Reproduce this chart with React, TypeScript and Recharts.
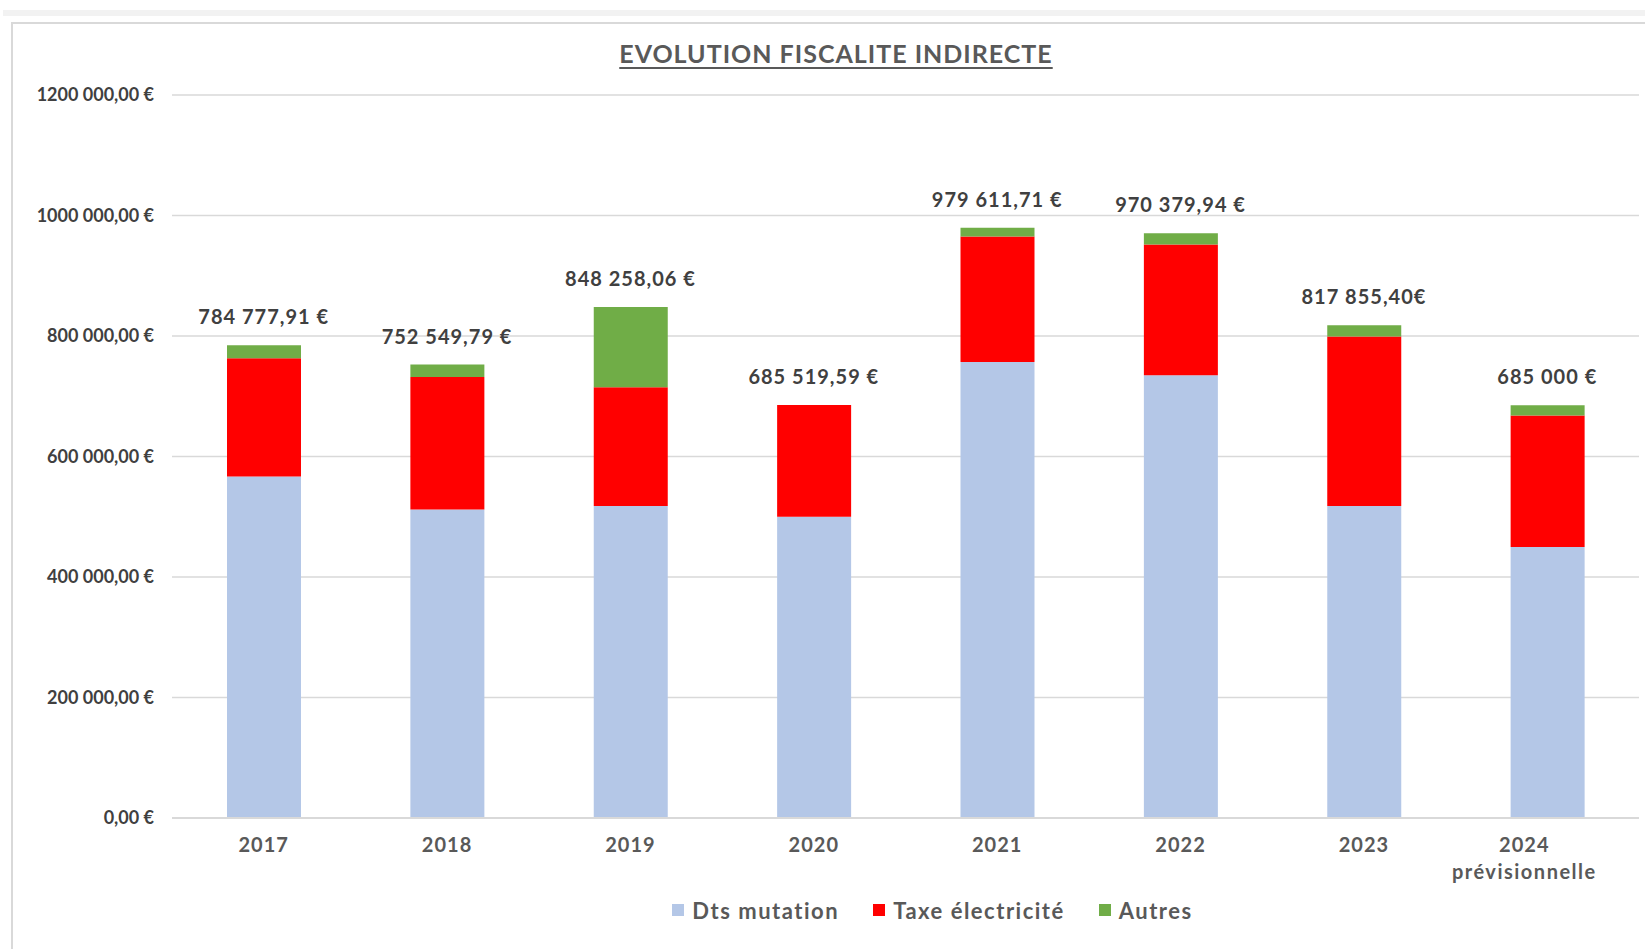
import { ComposedChart, Bar, Line, XAxis, YAxis, CartesianGrid, Legend, LabelList } from "recharts"

// ─── Data ──────────────────────────────────────────────────────────────────────

const categories = ["2017", "2018", "2019", "2020", "2021", "2022", "2023", "2024\nprévisionnelle"]
const dtsMutation = [567000, 512000, 518000, 500000, 757000, 735000, 518000, 450000]
const taxeElectricite = [196000, 220000, 197000, 185520, 208000, 217000, 281000, 218000]
const autres = [21778, 20550, 133258, 0, 14612, 18380, 18855, 17000]
const totalLabels = [
  "784 777,91 €",
  "752 549,79 €",
  "848 258,06 €",
  "685 519,59 €",
  "979 611,71 €",
  "970 379,94 €",
  "817 855,40€",
  "685 000 €",
]
const yTicks = [0, 200000, 400000, 600000, 800000, 1000000, 1200000]
const yTickLabels = ["0,00 €", "200 000,00 €", "400 000,00 €", "600 000,00 €", "800 000,00 €", "1000 000,00 €", "1200 000,00 €"]

const data = categories.map((name, i) => ({
  name,
  dts: dtsMutation[i],
  taxe: taxeElectricite[i],
  autres: autres[i],
  total: dtsMutation[i] + taxeElectricite[i] + autres[i],
  label: totalLabels[i],
}))

// ─── Styles ────────────────────────────────────────────────────────────────────

const FONT = "Lato, 'Open Sans', sans-serif"
const TEXT = "#595959"
const DARK = "#404040"
const GRID = "#d9d9d9"
const BLUE = "#b4c7e7"
const RED = "#ff0000"
const GREEN = "#70ad47"

const legendItems = [
  { label: "Dts mutation", color: BLUE },
  { label: "Taxe électricité", color: RED },
  { label: "Autres", color: GREEN },
]

// ─── Pieces ────────────────────────────────────────────────────────────────────

function CategoryTick({ x, y, payload }: { x?: number; y?: number; payload?: { value: string } }) {
  const lines = String(payload?.value ?? "").split("\n")
  // Excel shifts wrapped labels a little to the left
  const shift = lines.length > 1 ? -23 : 0
  return (
    <g>
      {lines.map((line, i) => (
        <text
          key={i}
          x={(x ?? 0) + shift}
          y={(y ?? 0) + 34 + i * 27}
          textAnchor="middle"
          fill={TEXT}
          fontFamily={FONT}
          fontWeight={700}
          fontSize={20}
          letterSpacing={i === 0 ? 1 : 1.5}
        >
          {line}
        </text>
      ))}
    </g>
  )
}

function TotalLabel(props: { x?: number; y?: number; value?: string }) {
  const { x = 0, y = 0, value } = props
  return (
    <text
      x={x}
      y={y - 21}
      textAnchor="middle"
      fill={DARK}
      fontFamily={FONT}
      fontWeight={700}
      fontSize={20}
      letterSpacing={1}
    >
      {value}
    </text>
  )
}

function ChartLegend() {
  return (
    <div
      style={{
        display: "flex",
        justifyContent: "center",
        alignItems: "center",
        height: 36,
        paddingLeft: 214,
        fontFamily: FONT,
      }}
    >
      {legendItems.map((item, i) => (
        <div
          key={item.label}
          style={{ display: "flex", alignItems: "center", marginRight: i < legendItems.length - 1 ? 34 : 0 }}
        >
          <span style={{ width: 12, height: 12, background: item.color, display: "block", marginRight: 8 }} />
          <span style={{ color: TEXT, fontSize: 22, fontWeight: 700, letterSpacing: 1.5 }}>{item.label}</span>
        </div>
      ))}
    </div>
  )
}

// ─── App ───────────────────────────────────────────────────────────────────────

export default function App() {
  return (
    <div
      style={{
        position: "absolute",
        left: 0,
        top: 0,
        width: 1645,
        height: 949,
        overflow: "hidden",
        background: "#fff",
        fontFamily: FONT,
      }}
    >
      <div style={{ position: "absolute", left: 3, top: 10, width: 1645, height: 6, background: "#f2f2f2" }} />
      <div
        style={{
          position: "absolute",
          left: 11,
          top: 22,
          width: 1700,
          height: 1000,
          border: `2px solid ${GRID}`,
        }}
      />
      <div
        style={{
          position: "absolute",
          left: 536,
          top: 38,
          width: 600,
          textAlign: "center",
          color: TEXT,
          fontSize: 25,
          fontWeight: 700,
          letterSpacing: 1,
          textDecoration: "underline",
          textDecorationThickness: 2,
          textUnderlineOffset: 4,
        }}
      >
        EVOLUTION FISCALITE INDIRECTE
      </div>
      <div style={{ position: "absolute", left: 0, top: 0 }}>
        <ComposedChart width={1645} height={949} data={data} margin={{ top: 95, right: 6, left: 12, bottom: 21 }}>
          <CartesianGrid vertical={false} stroke={GRID} strokeWidth={1.5} />
          <XAxis
            dataKey="name"
            interval={0}
            height={74}
            axisLine={{ stroke: GRID, strokeWidth: 2 }}
            tickLine={false}
            tickSize={0}
            tickMargin={0}
            tick={<CategoryTick />}
          />
          <YAxis
            domain={[0, 1200000]}
            ticks={yTicks}
            width={160}
            axisLine={false}
            tickLine={false}
            tickSize={0}
            tickMargin={18}
            tickFormatter={(v: number) => yTickLabels[yTicks.indexOf(v)] ?? ""}
            tick={{ fill: DARK, fontSize: 18, fontWeight: 700, fontFamily: FONT }}
          />
          <Legend verticalAlign="bottom" height={36} content={<ChartLegend />} />
          <Bar dataKey="dts" name="Dts mutation" stackId="a" fill={BLUE} barSize={74} isAnimationActive={false} />
          <Bar dataKey="taxe" name="Taxe électricité" stackId="a" fill={RED} barSize={74} isAnimationActive={false} />
          <Bar dataKey="autres" name="Autres" stackId="a" fill={GREEN} barSize={74} isAnimationActive={false} />
          <Line
            dataKey="total"
            stroke="none"
            dot={false}
            activeDot={false}
            legendType="none"
            isAnimationActive={false}
          >
            <LabelList dataKey="label" content={<TotalLabel />} />
          </Line>
        </ComposedChart>
      </div>
    </div>
  )
}
